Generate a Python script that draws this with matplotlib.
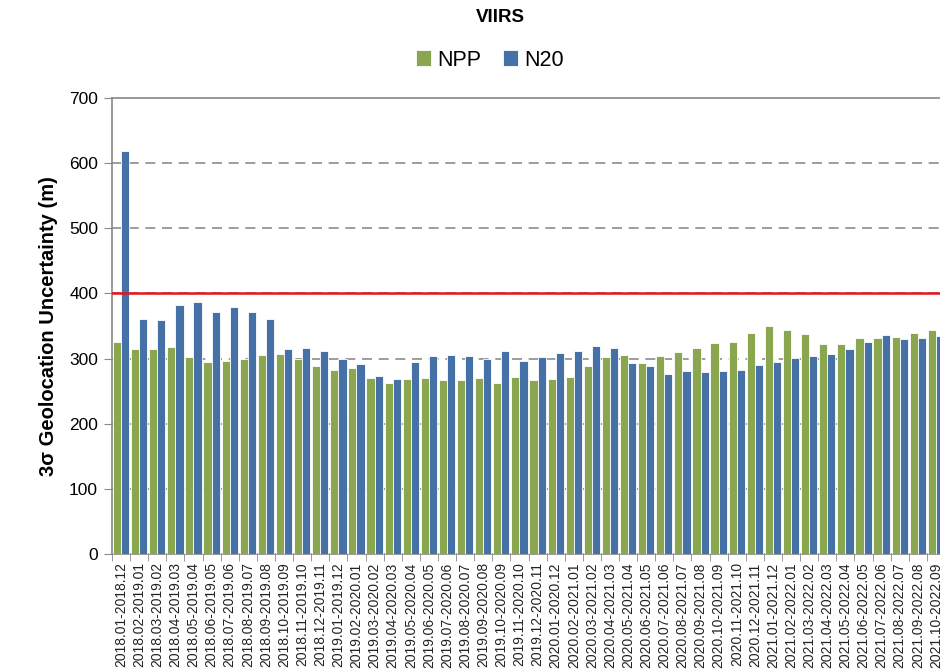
import matplotlib.pyplot as plt
import numpy as np

# VIIRS 3-sigma geolocation uncertainty, 12-month windows
starts = ['2018.%02d' % m for m in range(1, 13)] + ['2019.%02d' % m for m in range(1, 13)] + \
         ['2020.%02d' % m for m in range(1, 13)] + ['2021.%02d' % m for m in range(1, 11)]
ends = ['2018.12'] + ['2019.%02d' % m for m in range(1, 13)] + ['2020.%02d' % m for m in range(1, 13)] + \
       ['2021.%02d' % m for m in range(1, 13)] + ['2022.%02d' % m for m in range(1, 10)]
labels = [s + '-' + e for s, e in zip(starts, ends)]

npp = [326, 314, 314, 318, 302, 295, 297, 299, 305, 307,
       300, 288, 283, 285, 270, 262, 269, 270, 267, 267,
       270, 262, 271, 267, 268, 272, 289, 303, 305, 293,
       304, 310, 316, 324, 326, 340, 350, 344, 338, 323,
       322, 332, 332, 333, 340, 344]
n20 = [618, 360, 359, 383, 387, 372, 379, 372, 361, 315,
       316, 311, 300, 291, 273, 269, 295, 304, 306, 304,
       299, 311, 297, 303, 308, 311, 320, 316, 293, 289,
       277, 281, 280, 281, 283, 290, 294, 301, 304, 307,
       315, 325, 336, 330, 331, 335]
threshold = 400

green = '#8AA64E'
blue = '#4571A7'

plt.rcParams['font.family'] = ['Liberation Sans', 'DejaVu Sans']

fig = plt.figure(figsize=(9.4, 6.69), dpi=100)
ax = fig.add_axes([112 / 940, 115 / 669, 833 / 940, 456 / 669])

x = np.arange(len(labels))
w = 0.45
ax.bar(x - w / 2, npp, width=w, color=green, edgecolor='white', linewidth=0.6, label='NPP', zorder=3)
ax.bar(x + w / 2, n20, width=w, color=blue, edgecolor='white', linewidth=0.6, label='N20', zorder=3)

ax.axhline(threshold, color='#E8141B', linewidth=1.8, zorder=4)

ax.set_xlim(-0.5, len(labels) - 0.5)
ax.set_ylim(0, 700)
ax.set_yticks(range(0, 701, 100))
for yv in range(100, 700, 100):
    ax.axhline(yv, color='#8C8C8C', linewidth=1.2, linestyle=(0, (6, 4)), zorder=1)

ax.set_xticks(x)
ax.set_xticklabels(labels, rotation=90, fontsize=10, color='#222222')
ax.set_xticks(np.arange(-0.5, len(labels)), minor=True)
ax.tick_params(axis='x', which='major', length=0, pad=6)
ax.tick_params(axis='x', which='minor', length=5, color='#888888', direction='out')
ax.tick_params(axis='y', length=6, color='#888888', labelsize=12.5, pad=4)

for side in ['left', 'bottom', 'top']:
    ax.spines[side].set_color('#888888')
    ax.spines[side].set_linewidth(1.2)
ax.spines['right'].set_visible(False)

ax.set_ylabel('3σ Geolocation Uncertainty (m)', fontsize=14.5, fontweight='bold', labelpad=8)

fig.text(500 / 940, 1 - 18 / 669, 'VIIRS', ha='center', va='center', fontsize=13.5, fontweight='bold')
fig.legend(loc='center', bbox_to_anchor=(490 / 940, 1 - 60 / 669), ncol=2, frameon=False,
           fontsize=15.5, handlelength=0.7, handleheight=0.7, handletextpad=0.3, columnspacing=1.0)

fig.savefig('out.png', dpi=100)
